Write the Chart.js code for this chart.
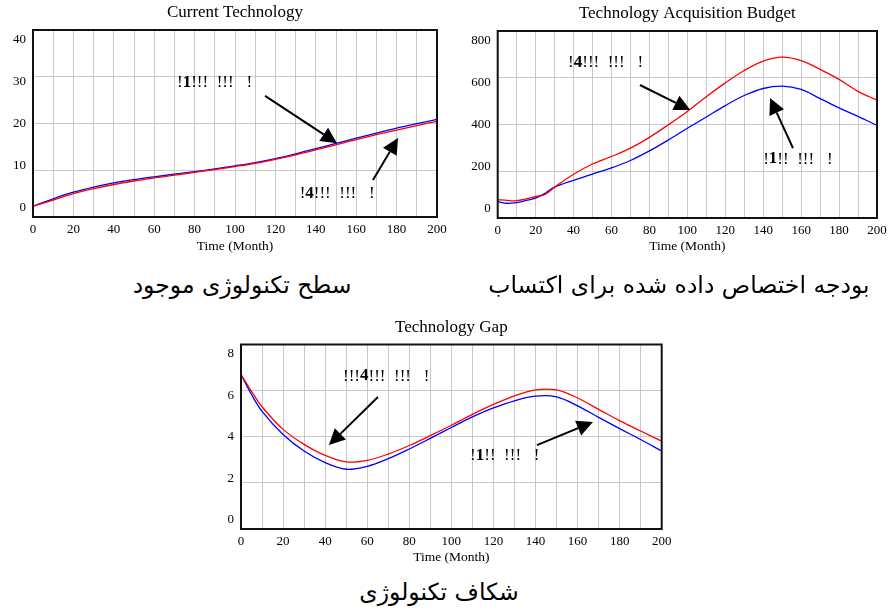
<!DOCTYPE html>
<html><head><meta charset="utf-8">
<script src="https://cdn.jsdelivr.net/npm/chart.js@4/dist/chart.umd.min.js"></script>
<style>
body{margin:0;background:#fff;width:890px;height:611px;position:relative;overflow:hidden}
canvas{position:absolute}
.cap{position:absolute;font-family:"DejaVu Sans","Noto Sans",sans-serif;font-size:23.5px;line-height:28px;color:#000;direction:rtl;text-align:center;white-space:nowrap;transform:translateX(-50%)}
</style></head><body>
<canvas id="c1" width="460" height="255" style="left:0px;top:0px"></canvas>
<canvas id="c2" width="445" height="255" style="left:445px;top:0px"></canvas>
<canvas id="c3" width="480" height="256" style="left:210px;top:310px"></canvas>
<div class="cap" style="left:242px;top:271px">سطح تکنولوژی موجود</div>
<div class="cap" style="left:679px;top:271px">بودجه اختصاص داده شده برای اکتساب</div>
<div class="cap" style="left:439px;top:578px">شکاف تکنولوژی</div>
<script>
// ---- Data ----
const monthsTech = [0,10,20,30,40,50,60,70,80,90,100,110,120,130,140,150,160,170,180,190,200];
const techBlue = [2.3,3.9,5.3,6.4,7.3,8.0,8.6,9.15,9.7,10.3,10.95,11.65,12.5,13.5,14.6,15.75,16.85,17.95,19.0,19.95,20.9];
const techRed  = [2.3,3.6,5.0,6.05,6.95,7.7,8.35,8.95,9.55,10.15,10.8,11.5,12.35,13.3,14.35,15.45,16.55,17.6,18.6,19.55,20.45];

const monthsBudget = [0,5,10,15,20,25,30,40,50,60,70,80,90,100,110,120,130,140,150,160,170,180,190,200];
const budgetBlue = [70,63,66,75,85,106,132,161,188,214,246,287,334,384,432,481,524,554,564,550,511,471,435,396];
const budgetRed  = [79,75,74,82,92,101,132,187,231,263,299,345,399,456,519,578,631,671,688,673,636,593,542,504];

const monthsGap = [0,5,10,20,30,40,50,60,70,80,90,100,110,120,130,140,150,160,170,180,190,200];
const gapBlue = [6.7,5.83,5.1,4.1,3.38,2.88,2.59,2.72,3.05,3.47,3.93,4.40,4.86,5.25,5.56,5.76,5.73,5.34,4.84,4.35,3.88,3.38];
const gapRed  = [6.7,5.97,5.3,4.32,3.67,3.19,2.91,2.98,3.25,3.62,4.05,4.50,4.97,5.40,5.77,6.03,6.03,5.68,5.19,4.70,4.25,3.81];

const xTicksEvery = 20;
const titles = ["Current Technology","Technology Acquisition Budget","Technology Gap"];
const xTitle = "Time (Month)";

// annotation labels / arrows (data coordinates)
const notesTech = {texts:[{x:71.3,y:28.7,t:["!","1","!!!  !!!   !"]},{x:132,y:5.1,t:["!","4","!!!  !!!   !"]}],
                   arrows:[[114.9,25.9,150.5,15.8],[168.3,7.9,180.7,16.9]]};
const notesBudget = {texts:[{x:37.1,y:663,t:["!","4","!!!  !!!   !"]},{x:140,y:252,t:["!","1","!!  !!!   !"]}],
                   arrows:[[75,569,101.5,462],[155.7,299,143.6,513]]};
const notesGap = {texts:[{x:48.5,y:6.63,t:["!!!","4","!!!  !!!   !"]},{x:108.9,y:3.2,t:["!","1","!!  !!!   !"]}],
                   arrows:[[65.1,5.72,41.8,3.64],[140.7,3.64,167.3,4.64]]};

const serif = "'Liberation Serif','Times New Roman',serif";

const frameNotes = {
  id:'frameNotes',
  afterDatasetsDraw(chart, args, opts){
    const {ctx, chartArea:a, scales:{x,y}} = chart;
    ctx.save();
    ctx.strokeStyle='#111'; ctx.lineWidth=2;
    ctx.strokeRect(a.left,a.top,a.right-a.left,a.bottom-a.top);
    // y tick labels (placed slightly inward, as in the original)
    const mid=(a.top+a.bottom)/2;
    ctx.fillStyle='#000'; ctx.font='13px '+serif; ctx.textAlign='right'; ctx.textBaseline='middle';
    y.ticks.forEach(tk=>{
      const py=mid+(y.getPixelForValue(tk.value)-mid)*0.9;
      ctx.fillText(String(tk.value), a.left-7, py);
    });
    (opts.arrows||[]).forEach(ar=>{
      const x1=x.getPixelForValue(ar[0]), y1=y.getPixelForValue(ar[1]);
      const x2=x.getPixelForValue(ar[2]), y2=y.getPixelForValue(ar[3]);
      const ang=Math.atan2(y2-y1,x2-x1), hl=16, hw=8;
      const bx=x2-hl*Math.cos(ang), by=y2-hl*Math.sin(ang);
      ctx.strokeStyle='#000'; ctx.lineWidth=2;
      ctx.beginPath(); ctx.moveTo(x1,y1); ctx.lineTo(bx,by); ctx.stroke();
      ctx.fillStyle='#000'; ctx.beginPath();
      ctx.moveTo(x2,y2);
      ctx.lineTo(bx+hw*Math.sin(ang), by-hw*Math.cos(ang));
      ctx.lineTo(bx-hw*Math.sin(ang), by+hw*Math.cos(ang));
      ctx.closePath(); ctx.fill();
    });
    (opts.texts||[]).forEach(tx=>{
      let px=x.getPixelForValue(tx.x); const py=y.getPixelForValue(tx.y);
      ctx.fillStyle='#000'; ctx.textBaseline='middle'; ctx.textAlign='left';
      tx.t.forEach((s,i)=>{
        ctx.font=(i===1?'bold ':'')+'17px '+serif;
        ctx.fillText(s,px,py); px+=ctx.measureText(s).width;
      });
    });
    ctx.restore();
  }
};

function build(id, months, blue, red, yMax, yStep, title, titlePad, pad, yWidth, xHeight, notes){
  const toPts = (arr)=>arr.map((v,i)=>({x:months[i],y:v}));
  return new Chart(document.getElementById(id), {
    type:'line',
    data:{datasets:[
      {data:toPts(red), borderColor:'#ff0000', borderWidth:1.3, pointRadius:0, tension:0.35, fill:false},
      {data:toPts(blue), borderColor:'#0000ff', borderWidth:1.3, pointRadius:0, tension:0.35, fill:false}
    ]},
    options:{
      responsive:false, animation:false, devicePixelRatio:1,
      layout:{padding:pad},
      plugins:{
        legend:{display:false}, tooltip:{enabled:false},
        title:{display:true, fullSize:false, text:title, color:'#000', font:{family:serif, size:17, weight:'normal', lineHeight:1.2}, padding:titlePad},
        frameNotes:notes
      },
      scales:{
        x:{type:'linear', min:0, max:200,
           grid:{color:'#c8c8c8', lineWidth:1, drawTicks:false},
           border:{display:false},
           ticks:{stepSize:10, autoSkip:false, maxRotation:0, padding:5, color:'#000', font:{family:serif,size:13},
                  callback:v=> (v%xTicksEvery===0 ? String(v) : '')},
           title:{display:true, text:xTitle, color:'#000', font:{family:serif,size:13.5,lineHeight:1.2}, padding:0},
           afterFit:s=>{ s.height=xHeight; s.paddingLeft=0; s.paddingRight=0; }
        },
        y:{min:0, max:yMax,
           grid:{color:'#c8c8c8', lineWidth:1, drawTicks:false},
           border:{display:false},
           ticks:{display:false, stepSize:yStep},
           afterFit:s=>{ s.width=yWidth; s.paddingTop=0; s.paddingBottom=0; }
        }
      }
    },
    plugins:[frameNotes]
  });
}

build('c1', monthsTech, techBlue, techRed, 40, 10, titles[0], {top:2.5,bottom:7.1}, {left:0,right:23,top:0,bottom:0}, 33, 38, notesTech);
build('c2', monthsBudget, budgetBlue, budgetRed, 800, 200, titles[1], {top:3,bottom:7.6}, {left:0,right:13,top:0,bottom:0}, 52.7, 37, notesBudget);
build('c3', monthsGap, gapBlue, gapRed, 8, 2, titles[2], {top:7.5,bottom:6.6}, {left:0,right:28.3,top:0,bottom:0}, 31, 37, notesGap);
</script>
</body></html>
